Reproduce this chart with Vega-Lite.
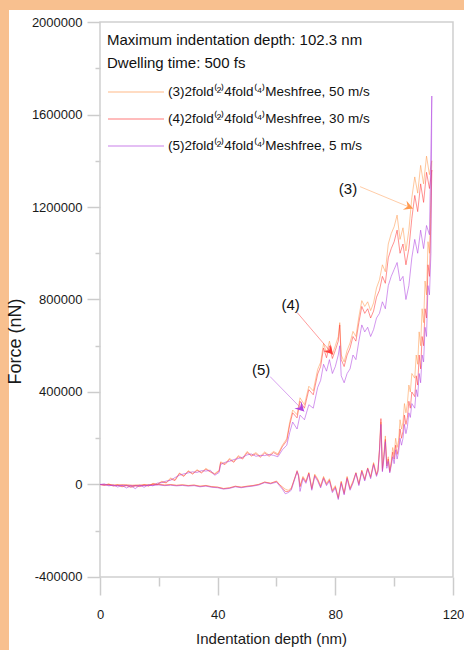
{
"$schema": "https://vega.github.io/schema/vega-lite/v6.json",
"width": 455, "height": 640,
"autosize": {"type": "none"},
"padding": {"left": 9, "top": 10, "right": 0, "bottom": 0},
"background": "#f8c08f",
"config": {
 "view": {"fill": "#ffffff", "stroke": null},
 "axis": {"domain": false, "grid": false, "tickColor": "#cccccc", "tickWidth": 1.5, "labelFont": "Liberation Sans, Arial, sans-serif", "labelFontSize": 13, "labelColor": "#1a1a1a"}
},
"datasets": {
 "main": [
  {"x":0,"a":0,"b":0,"c":0},
  {"x":1.5,"a":-2000,"b":-4000,"c":3000},
  {"x":3,"a":3000,"b":1000,"c":-6000},
  {"x":4.5,"a":-5000,"b":-7000,"c":-2000},
  {"x":6,"a":-1000,"b":-3000,"c":-11000},
  {"x":7.5,"a":-8000,"b":-10000,"c":-4000},
  {"x":9,"a":-3000,"b":-5000,"c":-15000},
  {"x":10.5,"a":-10000,"b":-12000,"c":-6000},
  {"x":12,"a":-4000,"b":-6000,"c":-18000},
  {"x":13.5,"a":-7000,"b":-9000,"c":-3000},
  {"x":15,"a":0,"b":-2000,"c":-12000},
  {"x":16.5,"a":-5000,"b":-7000,"c":-1000},
  {"x":18,"a":5000,"b":3000,"c":-6000},
  {"x":19.5,"a":2000,"b":0,"c":6000},
  {"x":21,"a":14000,"b":11000,"c":8000},
  {"x":22.5,"a":9000,"b":7000,"c":15000},
  {"x":24,"a":28000,"b":24000,"c":18000},
  {"x":25.5,"a":20000,"b":17000,"c":30000},
  {"x":27,"a":50000,"b":47000,"c":40000},
  {"x":28.5,"a":38000,"b":35000,"c":46000},
  {"x":30,"a":60000,"b":57000,"c":50000},
  {"x":31.5,"a":48000,"b":45000,"c":55000},
  {"x":33,"a":64000,"b":61000,"c":52000},
  {"x":34.5,"a":53000,"b":50000,"c":60000},
  {"x":36,"a":70000,"b":66000,"c":58000},
  {"x":37.5,"a":57000,"b":54000,"c":62000},
  {"x":39,"a":47000,"b":44000,"c":40000},
  {"x":40.5,"a":62000,"b":58000,"c":52000},
  {"x":41,"a":98000,"b":94000,"c":86000},
  {"x":42.5,"a":90000,"b":86000,"c":96000},
  {"x":44,"a":113000,"b":108000,"c":100000},
  {"x":45.5,"a":100000,"b":96000,"c":108000},
  {"x":47,"a":125000,"b":120000,"c":112000},
  {"x":48.5,"a":114000,"b":110000,"c":118000},
  {"x":50,"a":143000,"b":138000,"c":128000},
  {"x":51.5,"a":127000,"b":123000,"c":132000},
  {"x":53,"a":138000,"b":133000,"c":122000},
  {"x":54.5,"a":122000,"b":118000,"c":126000},
  {"x":56,"a":141000,"b":136000,"c":125000},
  {"x":57.5,"a":127000,"b":122000,"c":130000},
  {"x":59,"a":143000,"b":138000,"c":126000},
  {"x":60.5,"a":132000,"b":127000,"c":120000},
  {"x":62,"a":170000,"b":164000,"c":150000},
  {"x":63.5,"a":198000,"b":190000,"c":170000},
  {"x":64.5,"a":270000,"b":258000,"c":225000},
  {"x":65.5,"a":322000,"b":310000,"c":270000},
  {"x":67,"a":302000,"b":288000,"c":240000},
  {"x":68,"a":375000,"b":360000,"c":300000},
  {"x":69.5,"a":345000,"b":330000,"c":280000},
  {"x":71,"a":425000,"b":410000,"c":345000},
  {"x":72.5,"a":405000,"b":388000,"c":330000},
  {"x":74,"a":498000,"b":478000,"c":420000},
  {"x":75,"a":528000,"b":510000,"c":450000},
  {"x":76,"a":610000,"b":590000,"c":520000},
  {"x":77,"a":568000,"b":548000,"c":490000},
  {"x":78,"a":620000,"b":600000,"c":540000},
  {"x":79,"a":562000,"b":545000,"c":480000},
  {"x":80,"a":600000,"b":580000,"c":510000},
  {"x":81,"a":640000,"b":620000,"c":560000},
  {"x":81.5,"a":700000,"b":690000,"c":600000},
  {"x":82,"a":560000,"b":540000,"c":470000},
  {"x":83,"a":530000,"b":510000,"c":440000},
  {"x":84,"a":580000,"b":560000,"c":480000},
  {"x":85,"a":612000,"b":590000,"c":500000},
  {"x":86,"a":662000,"b":640000,"c":560000},
  {"x":87,"a":640000,"b":620000,"c":540000},
  {"x":88,"a":725000,"b":700000,"c":620000},
  {"x":89,"a":795000,"b":770000,"c":690000},
  {"x":90,"a":770000,"b":740000,"c":660000},
  {"x":91,"a":790000,"b":760000,"c":680000},
  {"x":92,"a":752000,"b":720000,"c":640000},
  {"x":93,"a":785000,"b":750000,"c":670000},
  {"x":94,"a":850000,"b":810000,"c":720000},
  {"x":95,"a":885000,"b":840000,"c":740000},
  {"x":96,"a":950000,"b":900000,"c":790000},
  {"x":97,"a":920000,"b":870000,"c":760000},
  {"x":98,"a":1040000,"b":980000,"c":860000},
  {"x":99,"a":1085000,"b":1020000,"c":900000},
  {"x":100,"a":1115000,"b":1050000,"c":930000},
  {"x":101,"a":1165000,"b":1100000,"c":960000},
  {"x":102,"a":1060000,"b":1000000,"c":880000},
  {"x":103,"a":1110000,"b":1040000,"c":900000},
  {"x":104,"a":1010000,"b":950000,"c":800000},
  {"x":105,"a":1100000,"b":1020000,"c":860000},
  {"x":106,"a":1240000,"b":1150000,"c":980000},
  {"x":107,"a":1330000,"b":1250000,"c":1060000},
  {"x":108,"a":1260000,"b":1180000,"c":1000000},
  {"x":109,"a":1380000,"b":1300000,"c":1100000},
  {"x":110,"a":1300000,"b":1220000,"c":1020000},
  {"x":111,"a":1420000,"b":1350000,"c":1120000},
  {"x":112,"a":1340000,"b":1280000,"c":1080000},
  {"x":112.8,"a":1400000,"b":1360000,"c":1680000},
  {"x":112.5,"a":1250000,"b":1150000,"c":1000000},
  {"x":112,"a":1000000,"b":900000,"c":820000},
  {"x":111.5,"a":1050000,"b":950000,"c":860000},
  {"x":111,"a":820000,"b":720000,"c":640000},
  {"x":110.5,"a":880000,"b":760000,"c":680000},
  {"x":110,"a":700000,"b":600000,"c":530000},
  {"x":109.5,"a":760000,"b":640000,"c":560000},
  {"x":109,"a":600000,"b":500000,"c":440000},
  {"x":108.5,"a":660000,"b":560000,"c":480000},
  {"x":108,"a":520000,"b":430000,"c":380000},
  {"x":107.5,"a":560000,"b":470000,"c":410000},
  {"x":107,"a":460000,"b":380000,"c":330000},
  {"x":106,"a":480000,"b":400000,"c":350000},
  {"x":105.5,"a":400000,"b":330000,"c":290000},
  {"x":105,"a":430000,"b":360000,"c":310000},
  {"x":104.5,"a":350000,"b":290000,"c":250000},
  {"x":104,"a":310000,"b":260000,"c":220000},
  {"x":103.5,"a":350000,"b":300000,"c":260000},
  {"x":103,"a":270000,"b":230000,"c":200000},
  {"x":102.5,"a":240000,"b":200000,"c":170000},
  {"x":102,"a":280000,"b":240000,"c":200000},
  {"x":101.5,"a":190000,"b":160000,"c":140000},
  {"x":101,"a":160000,"b":130000,"c":110000},
  {"x":100.5,"a":200000,"b":170000,"c":150000},
  {"x":100,"a":130000,"b":110000,"c":90000},
  {"x":99.5,"a":160000,"b":140000,"c":120000},
  {"x":99,"a":100000,"b":90000,"c":80000},
  {"x":98.5,"a":60000,"b":55000,"c":50000},
  {"x":98,"a":120000,"b":110000,"c":100000},
  {"x":97.5,"a":90000,"b":80000,"c":70000},
  {"x":97,"a":210000,"b":195000,"c":185000},
  {"x":96.5,"a":130000,"b":120000,"c":110000},
  {"x":96,"a":70000,"b":60000,"c":55000},
  {"x":95.5,"a":270000,"b":285000,"c":260000},
  {"x":95,"a":150000,"b":150000,"c":140000},
  {"x":94.5,"a":65000,"b":60000,"c":55000},
  {"x":94,"a":45000,"b":40000,"c":35000},
  {"x":93,"a":95000,"b":90000,"c":85000},
  {"x":92,"a":35000,"b":30000,"c":25000},
  {"x":91,"a":72000,"b":70000,"c":68000},
  {"x":90,"a":25000,"b":20000,"c":15000},
  {"x":89,"a":62000,"b":60000,"c":55000},
  {"x":88,"a":5000,"b":0,"c":-5000},
  {"x":87,"a":52000,"b":50000,"c":48000},
  {"x":86,"a":15000,"b":10000,"c":5000},
  {"x":85,"a":-15000,"b":-20000,"c":-25000},
  {"x":84,"a":35000,"b":30000,"c":25000},
  {"x":83,"a":-35000,"b":-40000,"c":-45000},
  {"x":82,"a":15000,"b":10000,"c":5000},
  {"x":81,"a":-55000,"b":-60000,"c":-65000},
  {"x":80,"a":-5000,"b":-10000,"c":-15000},
  {"x":79,"a":-25000,"b":-30000,"c":-35000},
  {"x":78,"a":25000,"b":20000,"c":15000},
  {"x":77,"a":5000,"b":0,"c":-5000},
  {"x":76,"a":35000,"b":30000,"c":25000},
  {"x":75,"a":-5000,"b":-10000,"c":-15000},
  {"x":74,"a":25000,"b":20000,"c":15000},
  {"x":73,"a":45000,"b":40000,"c":35000},
  {"x":72,"a":-15000,"b":-20000,"c":-25000},
  {"x":71,"a":52000,"b":50000,"c":45000},
  {"x":70,"a":15000,"b":10000,"c":5000},
  {"x":69,"a":35000,"b":30000,"c":25000},
  {"x":68,"a":-5000,"b":-10000,"c":-30000},
  {"x":67.5,"a":40000,"b":40000,"c":35000},
  {"x":67,"a":55000,"b":60000,"c":55000},
  {"x":66,"a":20000,"b":20000,"c":15000},
  {"x":65,"a":-15000,"b":-20000,"c":-25000},
  {"x":64,"a":-25000,"b":-30000,"c":-35000},
  {"x":63,"a":-20000,"b":-30000,"c":-40000},
  {"x":62,"a":-10000,"b":-15000,"c":-20000},
  {"x":61,"a":0,"b":0,"c":-5000},
  {"x":60,"a":12000,"b":15000,"c":10000},
  {"x":58,"a":6000,"b":5000,"c":3000},
  {"x":56,"a":11000,"b":10000,"c":8000},
  {"x":54,"a":1000,"b":0,"c":-2000},
  {"x":52,"a":-4000,"b":-5000,"c":-7000},
  {"x":50,"a":-7000,"b":-8000,"c":-10000},
  {"x":48,"a":-11000,"b":-12000,"c":-14000},
  {"x":46,"a":-7000,"b":-8000,"c":-10000},
  {"x":44,"a":-14000,"b":-15000,"c":-17000},
  {"x":42,"a":-17000,"b":-18000,"c":-20000},
  {"x":40,"a":-11000,"b":-12000,"c":-14000},
  {"x":38,"a":-9000,"b":-10000,"c":-12000},
  {"x":36,"a":-4000,"b":-5000,"c":-7000},
  {"x":34,"a":-7000,"b":-8000,"c":-10000},
  {"x":32,"a":-2000,"b":-3000,"c":-5000},
  {"x":30,"a":-4000,"b":-5000,"c":-7000},
  {"x":28,"a":-1000,"b":-2000,"c":-4000},
  {"x":26,"a":-3000,"b":-4000,"c":-6000},
  {"x":24,"a":0,"b":-1000,"c":-3000},
  {"x":22,"a":-2000,"b":-3000,"c":-5000},
  {"x":20,"a":1000,"b":0,"c":-2000},
  {"x":17,"a":-1000,"b":-2000,"c":-4000},
  {"x":14,"a":-2000,"b":-3000,"c":-5000},
  {"x":11,"a":-3000,"b":-4000,"c":-6000},
  {"x":8,"a":-1000,"b":-2000,"c":-4000},
  {"x":5,"a":-2000,"b":-3000,"c":-5000},
  {"x":2,"a":0,"b":-1000,"c":-2000},
  {"x":0,"a":0,"b":0,"c":0}
 ],
 "ann": [
  {"k":"a","lab":"(3)","tx":84.3,"ty":1280000,"sx":88.4,"sy":1288000,"ex":106.4,"ey":1193000},
  {"k":"b","lab":"(4)","tx":64.8,"ty":778000,"sx":67,"sy":744000,"ex":79.2,"ey":562000},
  {"k":"c","lab":"(5)","tx":54.8,"ty":493000,"sx":57.8,"sy":467000,"ex":69.4,"ey":316000}
 ]
},
"layer": [
 {
  "data": {"values": [{}]},
  "mark": {"type": "rect", "filled": false, "color": "#cfcfcf", "strokeWidth": 1.5},
  "encoding": {
   "x": {"datum": 0, "type": "quantitative", "scale": {"domain": [-30.93, 123.74], "nice": false, "zero": false},
     "axis": {"orient": "bottom", "offset": -73, "values": [0, 40, 80, 120], "tickSize": 18, "labelPadding": 13, "title": "Indentation depth (nm)", "titleFont": "Liberation Sans, Arial, sans-serif", "titleFontSize": 15, "titleFontWeight": "normal", "titleColor": "#1a1a1a", "titleX": 262, "titleY": 54, "titleBaseline": "top"}},
   "x2": {"datum": 120},
   "y": {"datum": -400000, "type": "quantitative", "scale": {"domain": [-715676, 2051892], "nice": false, "zero": false},
     "axis": {"orient": "left", "offset": -91, "values": [-400000, 0, 400000, 800000, 1200000, 1600000, 2000000], "tickSize": 13, "labelPadding": 5, "format": "d", "labelExpr": "replace(datum.label, '−', '-')", "title": "Force (nN)", "titleFont": "Liberation Sans, Arial, sans-serif", "titleFontSize": 18, "titleFontWeight": "normal", "titleColor": "#1a1a1a", "titleX": -76, "titleY": 331}},
   "y2": {"datum": 2000000}
  }
 },
 {
  "data": {"name": "main"},
  "transform": [
   {"window": [{"op": "row_number", "as": "i"}]},
   {"fold": ["a", "b", "c"], "as": ["s", "f"]}
  ],
  "mark": {"type": "line", "strokeWidth": 0.8, "opacity": 0.7},
  "encoding": {
   "x": {"field": "x", "type": "quantitative", "scale": {"domain": [-30.93, 123.74], "nice": false, "zero": false},
     "axis": {"orient": "bottom", "offset": -73, "values": [20, 60, 100], "tickSize": 9, "labels": false, "title": null}},
   "y": {"field": "f", "type": "quantitative", "scale": {"domain": [-715676, 2051892], "nice": false, "zero": false},
     "axis": {"orient": "left", "offset": -91, "values": [-200000, 200000, 600000, 1000000, 1400000, 1800000], "tickSize": 5, "labels": false, "title": null}},
   "order": {"field": "i", "type": "quantitative"},
   "color": {"field": "s", "type": "nominal", "scale": {"domain": ["a", "b", "c"], "range": ["#ff9a50", "#ff3b3b", "#b045e0"]},
     "legend": {"orient": "none", "legendX": 98, "legendY": 23, "padding": 0,
       "title": ["Maximum indentation depth: 102.3 nm", "Dwelling time: 500 fs"],
       "titleFont": "Liberation Sans, Arial, sans-serif", "titleFontSize": 15, "titleFontWeight": "normal", "titleColor": "#111111", "titleLineHeight": 23, "titlePadding": 12, "titleLimit": 400,
       "labelFont": "Liberation Sans, Arial, sans-serif", "labelFontSize": 13.5, "labelColor": "#111111", "labelLimit": 400, "labelOffset": 43,
       "symbolType": "M-1,0H6", "symbolSize": 256, "symbolStrokeWidth": 1.5, "symbolOpacity": 0.45, "rowPadding": 11,
       "labelExpr": "datum.value === 'a' ? '(3)2fold⁽²⁾4fold⁽⁴⁾Meshfree, 50 m/s' : datum.value === 'b' ? '(4)2fold⁽²⁾4fold⁽⁴⁾Meshfree, 30 m/s' : '(5)2fold⁽²⁾4fold⁽⁴⁾Meshfree, 5 m/s'"}}
  }
 },
 {
  "data": {"name": "ann"},
  "mark": {"type": "rule", "strokeWidth": 1, "opacity": 0.5},
  "encoding": {
   "x": {"field": "sx", "type": "quantitative", "axis": null},
   "y": {"field": "sy", "type": "quantitative", "axis": null},
   "x2": {"field": "ex"},
   "y2": {"field": "ey"},
   "color": {"field": "k", "type": "nominal", "legend": null}
  }
 },
 {
  "data": {"name": "ann"},
  "mark": {"type": "text", "font": "Liberation Sans, Arial, sans-serif", "fontSize": 15, "color": "#111111", "align": "center", "baseline": "middle"},
  "encoding": {
   "x": {"field": "tx", "type": "quantitative", "axis": null},
   "y": {"field": "ty", "type": "quantitative", "axis": null},
   "text": {"field": "lab"}
  }
 },
 {
  "data": {"name": "ann"},
  "transform": [{"filter": "datum.k === 'a'"}],
  "mark": {"type": "point", "shape": "M0,0L-1,-0.55L-0.65,0L-1,0.55Z", "filled": true, "size": 320, "angle": 22, "opacity": 1},
  "encoding": {
   "x": {"field": "ex", "type": "quantitative", "axis": null},
   "y": {"field": "ey", "type": "quantitative", "axis": null},
   "color": {"field": "k", "type": "nominal", "legend": null}
  }
 },
 {
  "data": {"name": "ann"},
  "transform": [{"filter": "datum.k === 'b'"}],
  "mark": {"type": "point", "shape": "M0,0L-1,-0.55L-0.65,0L-1,0.55Z", "filled": true, "size": 320, "angle": 49, "opacity": 1},
  "encoding": {
   "x": {"field": "ex", "type": "quantitative", "axis": null},
   "y": {"field": "ey", "type": "quantitative", "axis": null},
   "color": {"field": "k", "type": "nominal", "legend": null}
  }
 },
 {
  "data": {"name": "ann"},
  "transform": [{"filter": "datum.k === 'c'"}],
  "mark": {"type": "point", "shape": "M0,0L-1,-0.55L-0.65,0L-1,0.55Z", "filled": true, "size": 320, "angle": 46, "opacity": 1},
  "encoding": {
   "x": {"field": "ex", "type": "quantitative", "axis": null},
   "y": {"field": "ey", "type": "quantitative", "axis": null},
   "color": {"field": "k", "type": "nominal", "legend": null}
  }
 }
],
"resolve": {"axis": {"x": "independent", "y": "independent"}}
}
